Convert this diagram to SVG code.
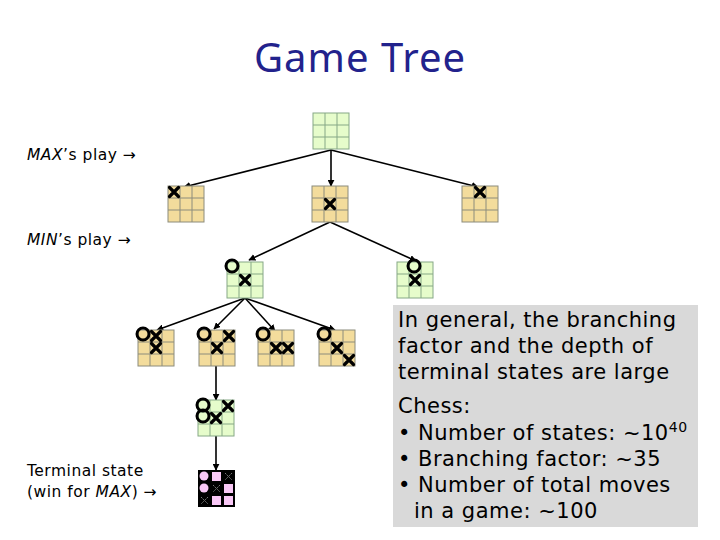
<svg xmlns="http://www.w3.org/2000/svg" width="720" height="540" viewBox="0 0 720 540">
<style>
.t{font-family:"DejaVu Sans","Noto Sans",sans-serif;fill:#000}
.title{font-family:"Noto Sans","DejaVu Sans",sans-serif;font-size:40px;fill:#22228c;text-anchor:middle;letter-spacing:1px}
.lab{font-size:15.5px;letter-spacing:0.5px}
.it{font-style:italic}
.box{font-size:21px;letter-spacing:0.5px}
.g{fill:#e6fccb;stroke:#86a886;stroke-width:1}
.y{fill:#f3dc9c;stroke:#8c8c7c;stroke-width:1}
.xm{stroke:#000;stroke-width:3.2;stroke-linecap:round;fill:none}
.om{stroke:#000;stroke-width:3;fill:none}
.c{stroke:#000;stroke-width:1.6;fill:none;marker-end:url(#ah)}
</style>
<defs>
<marker id="ah" viewBox="0 0 10 10" refX="9" refY="5" markerWidth="7" markerHeight="7" orient="auto" markerUnits="userSpaceOnUse">
<path d="M0,0 L10,5 L0,10 z" fill="#000"/>
</marker>
<g id="gb">
<rect class="g" x="0" y="0" width="36" height="36"/>
<path class="g" d="M12,0V36M24,0V36M0,12H36M0,24H36"/>
</g>
<g id="yb">
<rect class="y" x="0" y="0" width="36" height="36"/>
<path class="y" d="M12,0V36M24,0V36M0,12H36M0,24H36"/>
</g>
<path id="x" class="xm" d="M1.5,1.5L10.5,10.5M10.5,1.5L1.5,10.5"/>
<circle id="o" class="om" cx="5" cy="4" r="6"/>
</defs>
<rect width="720" height="540" fill="#fff"/>
<text class="title" x="360" y="72">Game Tree</text>
<text class="t lab" x="27" y="160"><tspan class="it">MAX</tspan>’s play →</text>
<text class="t lab" x="27" y="245"><tspan class="it">MIN</tspan>’s play →</text>
<text class="t lab" x="27" y="476">Terminal state</text>
<text class="t lab" x="27" y="497">(win for <tspan class="it">MAX</tspan>) →</text>

<g id="connectors">
<line class="c" x1="331" y1="150" x2="184" y2="187"/>
<line class="c" x1="331" y1="150" x2="331" y2="186"/>
<line class="c" x1="331" y1="150" x2="478" y2="187"/>
<line class="c" x1="330" y1="222" x2="249" y2="260"/>
<line class="c" x1="330" y1="222" x2="416" y2="261"/>
<line class="c" x1="245" y1="298" x2="157" y2="330"/>
<line class="c" x1="245" y1="298" x2="214" y2="329"/>
<line class="c" x1="245" y1="298" x2="275" y2="331"/>
<line class="c" x1="245" y1="298" x2="335" y2="330"/>
<line class="c" x1="216" y1="366" x2="216" y2="400"/>
<line class="c" x1="216" y1="436" x2="216" y2="470"/>
</g>

<g id="root" transform="translate(313,113)"><use href="#gb"/></g>

<g id="l1a" transform="translate(168,186)"><use href="#yb"/><use href="#x"/></g>
<g id="l1b" transform="translate(312,186)"><use href="#yb"/><use href="#x" x="12" y="12"/></g>
<g id="l1c" transform="translate(462,186)"><use href="#yb"/><use href="#x" x="12"/></g>

<g id="l2a" transform="translate(227,262)"><use href="#gb"/><use href="#x" x="12" y="12"/><use href="#o"/></g>
<g id="l2b" transform="translate(397,262)"><use href="#gb"/><use href="#x" x="12" y="12"/><use href="#o" x="12"/></g>

<g id="l3a" transform="translate(138,330)"><use href="#yb"/><use href="#x" x="12"/><use href="#x" x="12" y="12"/><use href="#o"/></g>
<g id="l3b" transform="translate(199,330)"><use href="#yb"/><use href="#x" x="24"/><use href="#x" x="12" y="12"/><use href="#o"/></g>
<g id="l3c" transform="translate(258,330)"><use href="#yb"/><use href="#x" x="12" y="12"/><use href="#x" x="24" y="12"/><use href="#o"/></g>
<g id="l3d" transform="translate(319,330)"><use href="#yb"/><use href="#x" x="12" y="12"/><use href="#x" x="24" y="24"/><use href="#o"/></g>

<g id="l4" transform="translate(198,400)"><use href="#gb"/><use href="#x" x="24"/><use href="#x" x="12" y="12"/><use href="#o" y="1"/><use href="#o" y="12"/></g>

<g id="terminal" transform="translate(198,470)">
<rect x="0" y="0" width="37" height="37" fill="#000"/>
<rect x="14" y="2" width="9" height="9" fill="#f9c8f6"/>
<rect x="26" y="14" width="9" height="9" fill="#f9c8f6"/>
<rect x="14" y="26" width="9" height="9" fill="#f9c8f6"/>
<rect x="26" y="26" width="9" height="9" fill="#f9c8f6"/>
<circle cx="6" cy="6" r="4.5" fill="#f9c8f6"/>
<circle cx="6" cy="18" r="4.5" fill="#f9c8f6"/>
<g stroke="#777" stroke-width="1" stroke-dasharray="2,1" fill="none">
<path d="M27,3L34,10M34,3L27,10"/>
<path d="M15,15L22,22M22,15L15,22"/>
<path d="M3,27L10,34M10,27L3,34"/>
</g>
</g>

<g id="infobox">
<rect x="393" y="305" width="305" height="222" fill="#d9d9d9"/>
<text class="t box" x="398" y="327">In general, the branching</text>
<text class="t box" x="398" y="353">factor and the depth of</text>
<text class="t box" x="398" y="379">terminal states are large</text>
<text class="t box" x="398" y="413">Chess:</text>
<text class="t box" x="398" y="440">• Number of states: ~10<tspan dy="-8" font-size="14">40</tspan></text>
<text class="t box" x="398" y="466">• Branching factor: ~35</text>
<text class="t box" x="398" y="492">• Number of total moves</text>
<text class="t box" x="414" y="518">in a game: ~100</text>
</g>
</svg>
